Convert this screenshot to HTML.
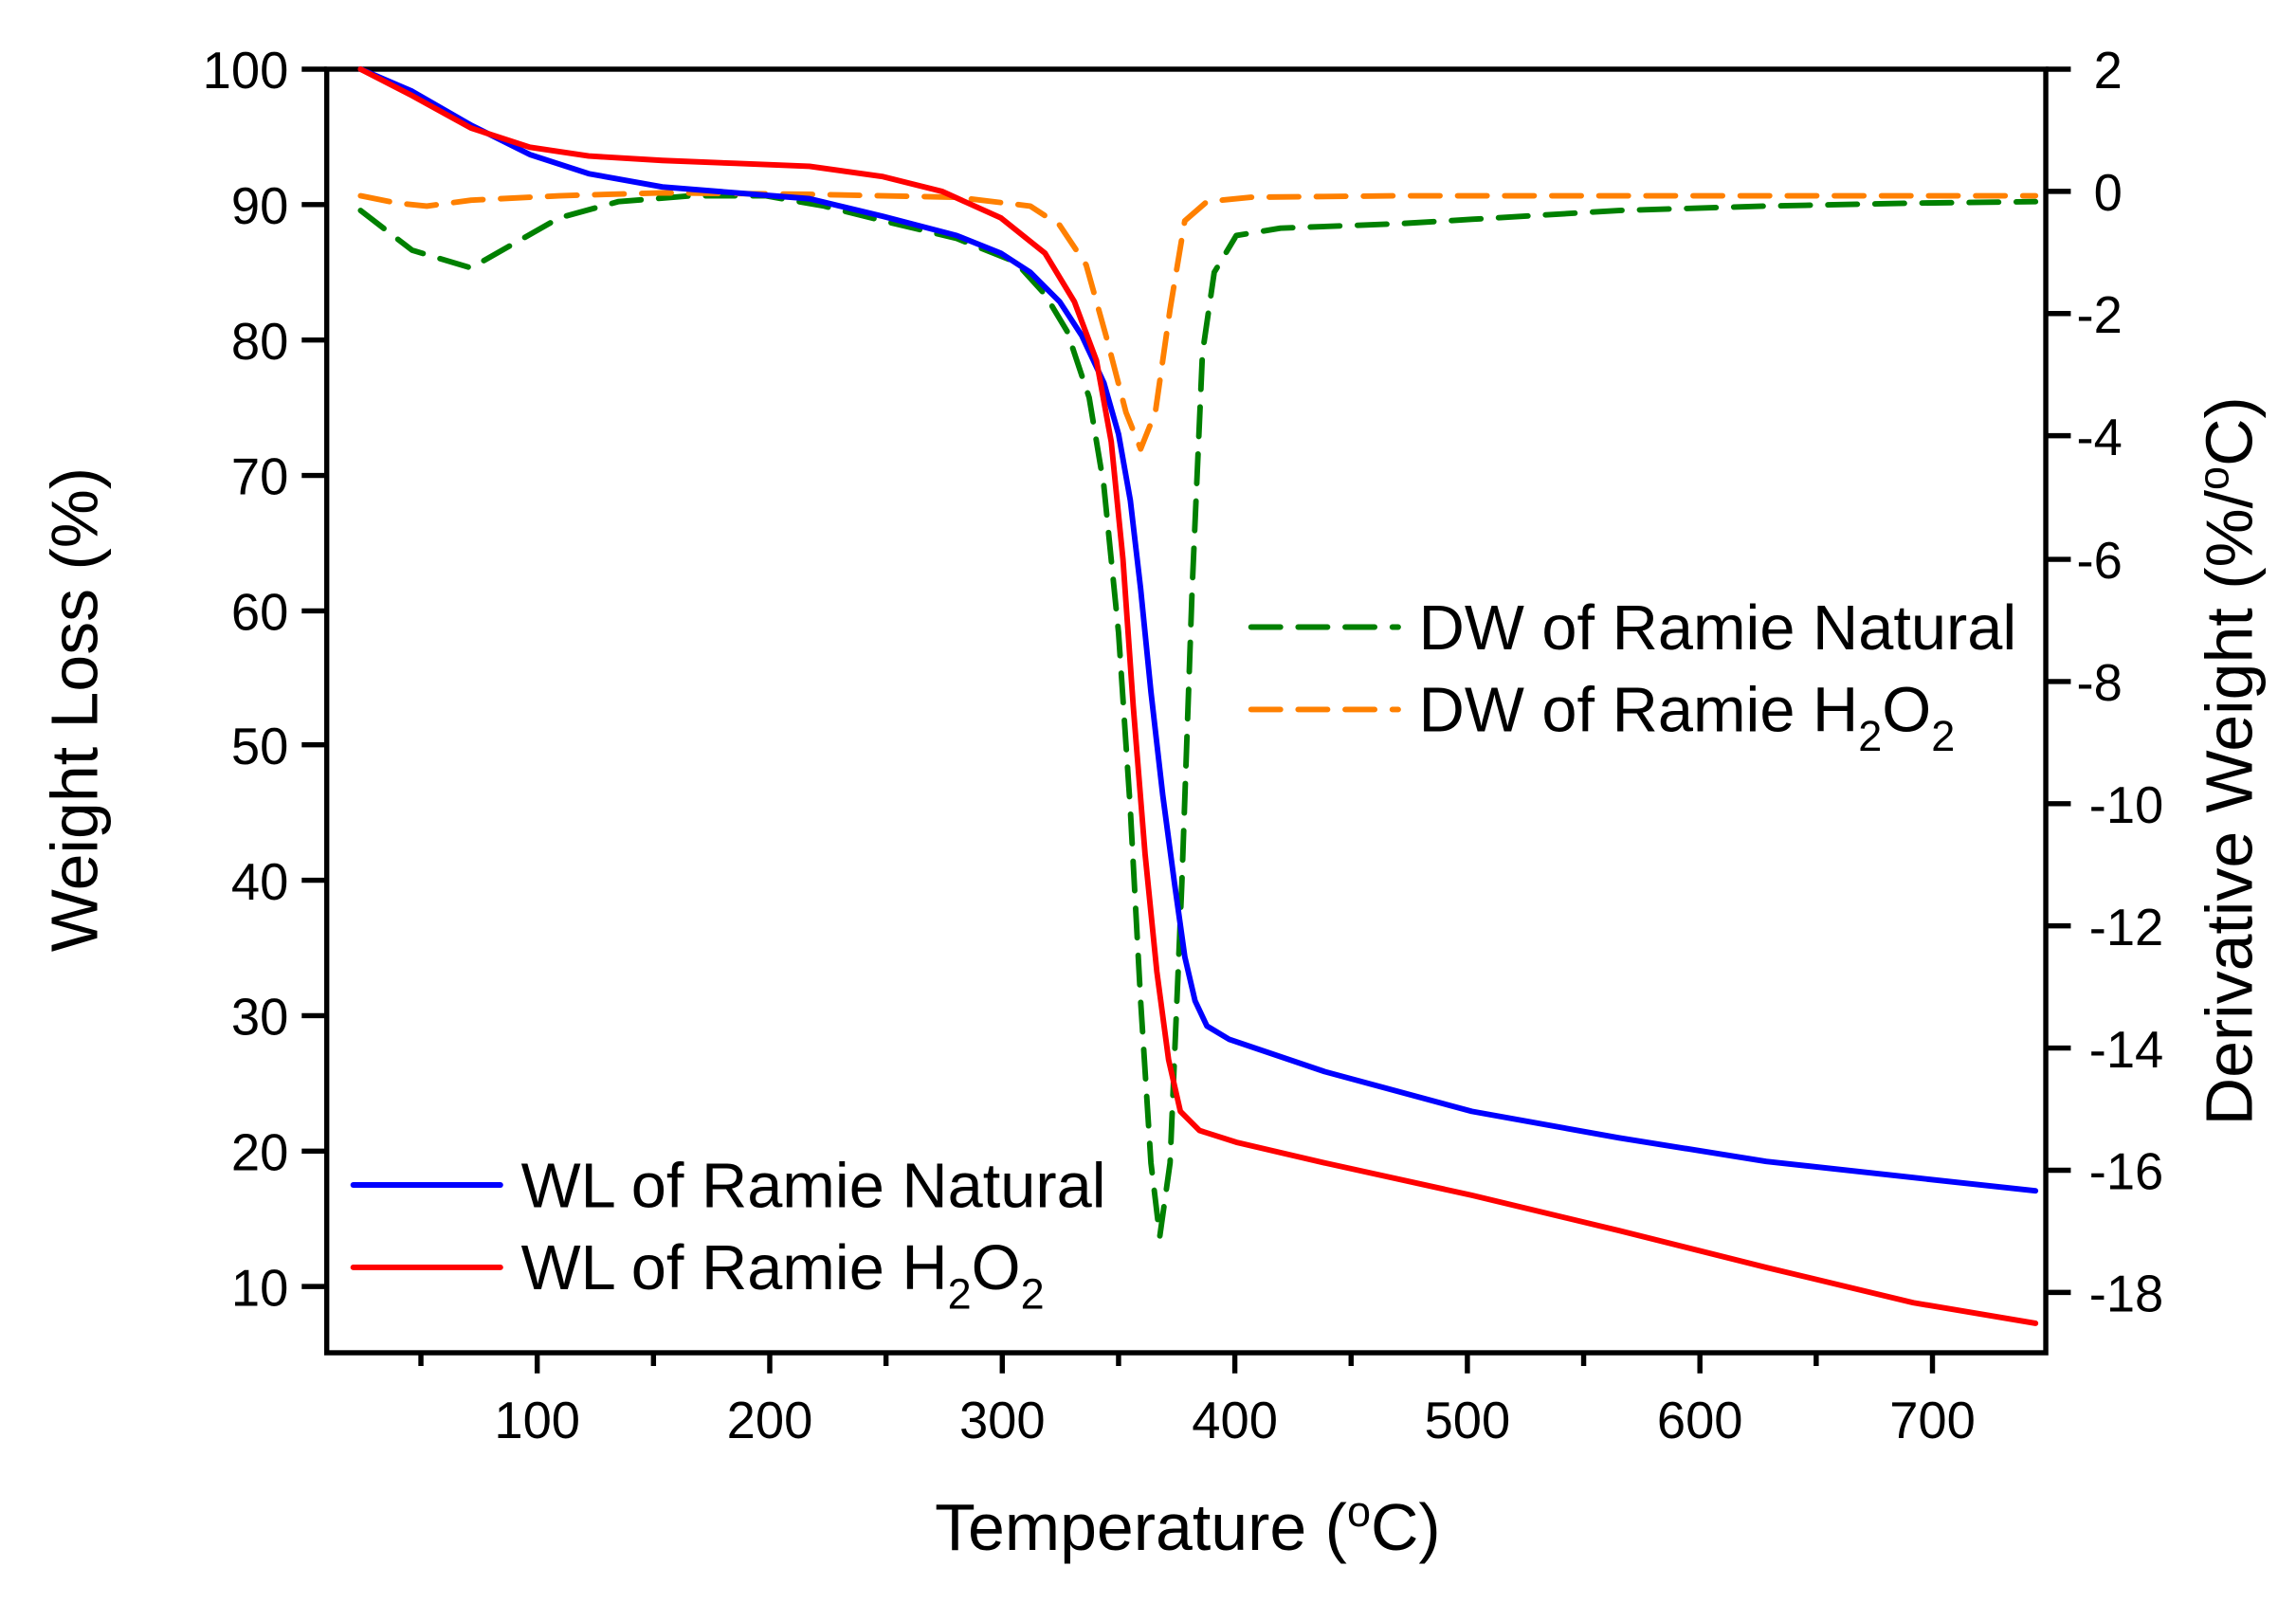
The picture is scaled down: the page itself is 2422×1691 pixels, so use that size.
<!DOCTYPE html>
<html><head><meta charset="utf-8"><style>
html,body{margin:0;padding:0;background:#fff;}
svg{display:block;}
text{font-family:"Liberation Sans",Arial,sans-serif;fill:#000;}
</style></head><body>
<svg width="2422" height="1691" viewBox="0 0 1560 1089" preserveAspectRatio="none" xmlns="http://www.w3.org/2000/svg">
<g stroke="#000" stroke-width="3.5" fill="none">
<rect x="222" y="47" width="1168" height="872"/>
<path d="M205 47H222M205 139H222M205 231H222M205 323H222M205 415H222M205 506H222M205 598H222M205 690H222M205 782H222M205 874H222"/>
<path d="M1390 47H1407M1390 130H1407M1390 213H1407M1390 296H1407M1390 380H1407M1390 463H1407M1390 546H1407M1390 629H1407M1390 712H1407M1390 795H1407M1390 878H1407"/>
<path d="M365 919V933M523 919V933M681 919V933M839 919V933M997 919V933M1155 919V933M1313 919V933M286 919V928M444 919V928M602 919V928M760 919V928M918 919V928M1076 919V928M1234 919V928"/>
</g>
<g font-size="35" text-anchor="end">
<text x="196" y="60">100</text><text x="196" y="152">90</text><text x="196" y="244">80</text><text x="196" y="336">70</text><text x="196" y="428">60</text><text x="196" y="519">50</text><text x="196" y="611">40</text><text x="196" y="703">30</text><text x="196" y="795">20</text><text x="196" y="887">10</text>
</g>
<g font-size="35" text-anchor="end">
<text x="1442" y="60">2</text><text x="1442" y="143">0</text><text x="1442" y="226">-2</text><text x="1442" y="309">-4</text><text x="1442" y="393">-6</text><text x="1442" y="476">-8</text><text x="1470" y="559">-10</text><text x="1470" y="642">-12</text><text x="1470" y="725">-14</text><text x="1470" y="808">-16</text><text x="1470" y="891">-18</text>
</g>
<g font-size="35" text-anchor="middle">
<text x="365" y="977">100</text><text x="523" y="977">200</text><text x="681" y="977">300</text><text x="839" y="977">400</text><text x="997" y="977">500</text><text x="1155" y="977">600</text><text x="1313" y="977">700</text>
</g>
<text x="807" y="1053" font-size="45" text-anchor="middle">Temperature (<tspan font-size="29" dy="-16">o</tspan><tspan dy="16">C)</tspan></text>
<text transform="translate(66,482) rotate(-90)" font-size="45" text-anchor="middle">Weight Loss (%)</text>
<text transform="translate(1530,517) rotate(-90)" font-size="45" text-anchor="middle">Derivative Weight (%/<tspan font-size="29" dy="-16">o</tspan><tspan dy="16">C)</tspan></text>
<g fill="none" stroke-width="3.8" stroke-linejoin="round" stroke-linecap="round">
<polyline stroke="#008000" stroke-dasharray="20 12" points="245,143 280,170 320,182 350,165 380,148 420,137 470,133 520,133 560,140 600,150 650,162 690,178 710,200 725,225 740,270 750,330 760,430 768,550 775,680 782,790 788,840 795,790 803,600 810,400 817,240 825,185 840,160 870,155 950,152 1000,149 1100,143 1200,140 1300,138 1383,137"/>
<polyline stroke="#ff8000" stroke-dasharray="20 12" points="245,133 270,138 290,140 320,136 380,133 450,131 550,132 650,134 700,140 720,153 738,180 752,230 765,280 775,305 785,280 795,210 805,150 820,137 850,134 950,133 1383,133"/>
<polyline stroke="#0000ff" points="245,47 280,62 320,85 360,105 400,118 450,127 500,131 550,135 600,147 650,160 680,172 700,185 720,205 735,228 750,260 760,295 768,340 775,400 782,470 790,540 798,600 805,650 812,680 820,697 835,706 900,728 1000,755 1100,773 1200,789 1300,800 1383,809"/>
<polyline stroke="#ff0000" points="245,47 280,65 320,87 360,100 400,106 450,109 500,111 550,113 600,120 640,130 680,148 710,172 730,205 745,245 755,300 763,380 770,480 778,580 786,660 794,720 802,755 815,768 840,776 900,790 1000,812 1100,836 1200,861 1300,885 1383,899"/>
<path stroke="#008000" stroke-dasharray="20 12" d="M850 426H950"/>
<path stroke="#ff8000" stroke-dasharray="20 12" d="M850 482H950"/>
<path stroke="#0000ff" d="M240 805H340"/>
<path stroke="#ff0000" d="M240 861H340"/>
</g>
<g font-size="43">
<text x="964" y="441">DW of Ramie Natural</text>
<text x="964" y="497">DW of Ramie H<tspan font-size="29" dy="13">2</tspan><tspan dy="-13">O</tspan><tspan font-size="29" dy="13">2</tspan></text>
<text x="354" y="820">WL of Ramie Natural</text>
<text x="354" y="876">WL of Ramie H<tspan font-size="29" dy="13">2</tspan><tspan dy="-13">O</tspan><tspan font-size="29" dy="13">2</tspan></text>
</g>
</svg>
</body></html>
